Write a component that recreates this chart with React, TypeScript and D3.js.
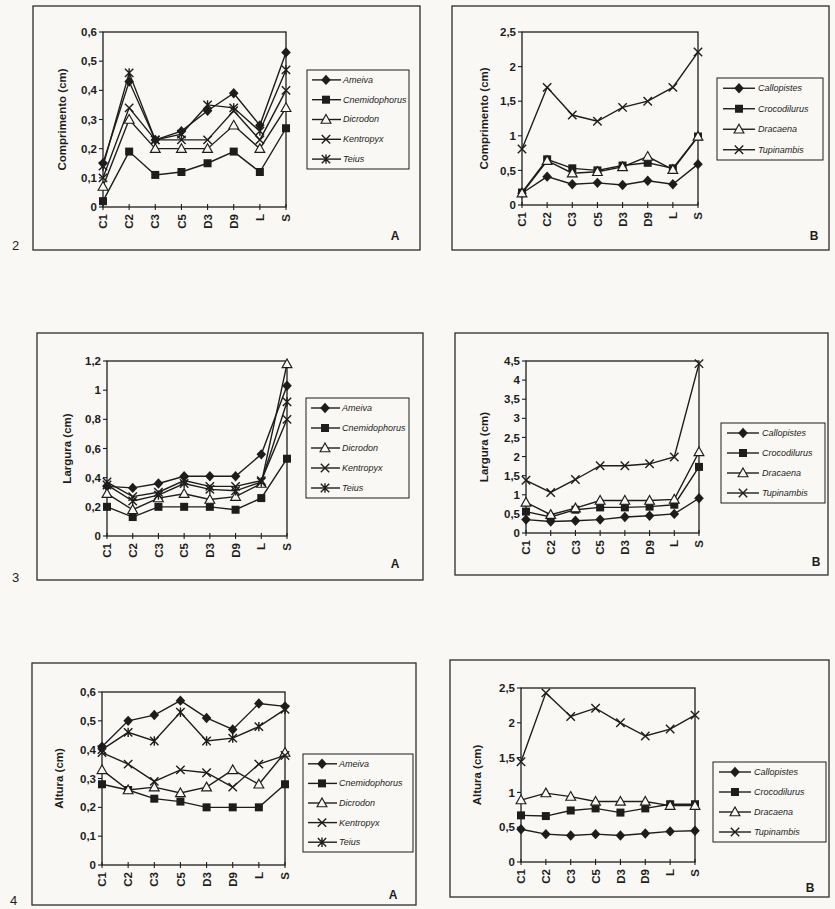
import React from 'react';
import * as d3 from 'd3';

const categories = ['C1', 'C2', 'C3', 'C5', 'D3', 'D9', 'L', 'S'];
const generaA = ['Ameiva', 'Cnemidophorus', 'Dicrodon', 'Kentropyx', 'Teius'];
const generaB = ['Callopistes', 'Crocodilurus', 'Dracaena', 'Tupinambis'];
const markersA = ['diamond', 'square', 'triangle', 'cross', 'star'];
const markersB = ['diamond', 'square', 'triangle', 'cross'];

// Comprimento (cm)
const comprimentoA = [
  [0.15, 0.43, 0.23, 0.26, 0.33, 0.39, 0.28, 0.53],
  [0.02, 0.19, 0.11, 0.12, 0.15, 0.19, 0.12, 0.27],
  [0.07, 0.30, 0.20, 0.20, 0.20, 0.28, 0.20, 0.34],
  [0.10, 0.34, 0.23, 0.23, 0.23, 0.33, 0.23, 0.40],
  [0.14, 0.46, 0.23, 0.25, 0.35, 0.34, 0.26, 0.47],
];
const comprimentoB = [
  [0.17, 0.41, 0.30, 0.32, 0.29, 0.35, 0.30, 0.59],
  [0.18, 0.66, 0.53, 0.50, 0.57, 0.61, 0.53, 0.99],
  [0.17, 0.64, 0.46, 0.48, 0.55, 0.70, 0.51, 0.99],
  [0.81, 1.70, 1.30, 1.21, 1.41, 1.50, 1.70, 2.21],
];
// Largura (cm)
const larguraA = [
  [0.34, 0.33, 0.36, 0.41, 0.41, 0.41, 0.56, 1.03],
  [0.20, 0.13, 0.20, 0.20, 0.20, 0.18, 0.26, 0.53],
  [0.29, 0.18, 0.26, 0.29, 0.25, 0.27, 0.36, 1.18],
  [0.37, 0.27, 0.30, 0.38, 0.34, 0.34, 0.38, 0.80],
  [0.35, 0.24, 0.28, 0.36, 0.32, 0.31, 0.37, 0.92],
];
const larguraB = [
  [0.35, 0.30, 0.32, 0.35, 0.42, 0.45, 0.50, 0.91],
  [0.56, 0.42, 0.61, 0.67, 0.67, 0.69, 0.74, 1.73],
  [0.80, 0.48, 0.65, 0.85, 0.85, 0.85, 0.88, 2.12],
  [1.38, 1.06, 1.40, 1.76, 1.76, 1.81, 1.99, 4.43],
];
// Altura (cm)
const alturaA = [
  [0.41, 0.50, 0.52, 0.57, 0.51, 0.47, 0.56, 0.55],
  [0.28, 0.26, 0.23, 0.22, 0.20, 0.20, 0.20, 0.28],
  [0.33, 0.26, 0.27, 0.25, 0.27, 0.33, 0.28, 0.39],
  [0.39, 0.35, 0.29, 0.33, 0.32, 0.27, 0.35, 0.38],
  [0.40, 0.46, 0.43, 0.53, 0.43, 0.44, 0.48, 0.54],
];
const alturaB = [
  [0.47, 0.40, 0.38, 0.40, 0.38, 0.41, 0.44, 0.45],
  [0.67, 0.66, 0.74, 0.77, 0.71, 0.77, 0.83, 0.83],
  [0.89, 0.99, 0.94, 0.87, 0.87, 0.87, 0.81, 0.81],
  [1.44, 2.43, 2.09, 2.21, 2.00, 1.81, 1.91, 2.11],
];

const ticks06 = [0, 0.1, 0.2, 0.3, 0.4, 0.5, 0.6];
const ticks12 = [0, 0.2, 0.4, 0.6, 0.8, 1, 1.2];
const ticks25 = [0, 0.5, 1, 1.5, 2, 2.5];
const ticks45 = [0, 0.5, 1, 1.5, 2, 2.5, 3, 3.5, 4, 4.5];

const INK = '#1d1d1d';
const PAPER = '#f9f8f4';
const FONT = '"Liberation Sans", Arial, sans-serif';

const fmt = (v: number) => String(v).replace('.', ',');

type Cfg = {
  box: [number, number, number, number];
  plot: [number, number, number, number]; // left, right, top, bottom
  legend: [number, number, number, number];
  titleX: number;
  yLabel: string;
  ticks: number[];
  series: number[][];
  names: string[];
  markers: string[];
  letter: string;
  letterPos: [number, number];
  num?: string;
  numPos?: [number, number];
  wide: boolean;
};

const panels: Cfg[] = [
  { box: [33, 6, 387, 244], plot: [103, 286, 32, 207], legend: [307, 70, 102, 99], titleX: 62,
    yLabel: 'Comprimento (cm)', ticks: ticks06, series: comprimentoA, names: generaA, markers: markersA,
    letter: 'A', letterPos: [395, 240], num: '2', numPos: [12, 250], wide: false },
  { box: [452, 6, 377, 244], plot: [522, 698, 32, 205], legend: [717, 78, 106, 82], titleX: 484,
    yLabel: 'Comprimento (cm)', ticks: ticks25, series: comprimentoB, names: generaB, markers: markersB,
    letter: 'B', letterPos: [814, 240], wide: true },
  { box: [37, 333, 386, 247], plot: [107, 287, 361, 536], legend: [306, 398, 103, 100], titleX: 67,
    yLabel: 'Largura (cm)', ticks: ticks12, series: larguraA, names: generaA, markers: markersA,
    letter: 'A', letterPos: [395, 568], num: '3', numPos: [12, 582], wide: false },
  { box: [455, 333, 373, 242], plot: [526, 699, 361, 533], legend: [721, 423, 104, 80], titleX: 484,
    yLabel: 'Largura (cm)', ticks: ticks45, series: larguraB, names: generaB, markers: markersB,
    letter: 'B', letterPos: [816, 566], wide: true },
  { box: [32, 663, 384, 242], plot: [102, 285, 692, 865], legend: [303, 754, 110, 98], titleX: 59,
    yLabel: 'Altura (cm)', ticks: ticks06, series: alturaA, names: generaA, markers: markersA,
    letter: 'A', letterPos: [393, 899], num: '4', numPos: [10, 905], wide: false },
  { box: [450, 660, 379, 237], plot: [521, 695, 688, 862], legend: [713, 762, 113, 80], titleX: 477,
    yLabel: 'Altura (cm)', ticks: ticks25, series: alturaB, names: generaB, markers: markersB,
    letter: 'B', letterPos: [810, 892], wide: true },
];

function Marker({ kind, x, y }: { kind: string; x: number; y: number }) {
  const s = 4.8;
  if (kind === 'diamond')
    return <polygon points={`${x},${y - s - 0.4} ${x + s},${y} ${x},${y + s + 0.4} ${x - s},${y}`} fill={INK} />;
  if (kind === 'square') return <rect x={x - 4} y={y - 4} width={8} height={8} fill={INK} />;
  if (kind === 'triangle')
    return (
      <polygon points={`${x},${y - 5} ${x + 4.9},${y + 3.7} ${x - 4.9},${y + 3.7}`}
        fill={PAPER} stroke={INK} strokeWidth={1.15} />
    );
  const c = 4.2;
  const paths = [`M${x - c},${y - c}L${x + c},${y + c}`, `M${x - c},${y + c}L${x + c},${y - c}`];
  if (kind === 'star') paths.push(`M${x},${y - c - 0.5}L${x},${y + c + 0.5}`);
  return <path d={paths.join('')} stroke={INK} strokeWidth={1.4} fill="none" />;
}

function Panel({ cfg }: { cfg: Cfg }) {
  const [l, r, t, b] = cfg.plot;
  const x = d3.scalePoint<string>().domain(categories).range([l, r]);
  const y = d3.scaleLinear().domain([0, cfg.ticks[cfg.ticks.length - 1]]).range([b, t]);
  const line = d3.line<number>().x((_, i) => x(categories[i])!).y(d => y(d));
  const [lx, ly, lw, lh] = cfg.legend;
  const n = cfg.names.length;
  const seg = cfg.wide ? [6, 38, 22, 41] : [5, 34, 19, 36];

  return (
    <g fontFamily={FONT} fill={INK}>
      <rect x={cfg.box[0]} y={cfg.box[1]} width={cfg.box[2]} height={cfg.box[3]}
        fill="none" stroke="#2b2b2b" strokeWidth={1.3} />
      {cfg.num && (
        <text x={cfg.numPos![0]} y={cfg.numPos![1]} fontSize={13}>{cfg.num}</text>
      )}
      <text x={cfg.letterPos[0]} y={cfg.letterPos[1]} fontSize={12} fontWeight="bold" textAnchor="middle">
        {cfg.letter}
      </text>

      {/* y axis */}
      {cfg.ticks.map(v => (
        <g key={v}>
          <line x1={l - 4} x2={l} y1={y(v)} y2={y(v)} stroke={INK} strokeWidth={1.1} />
          <text x={l - 6} y={y(v)} dy="0.36em" textAnchor="end" fontSize={11.5} fontWeight="bold">{fmt(v)}</text>
        </g>
      ))}
      <text transform={`translate(${cfg.titleX},${(t + b) / 2}) rotate(-90)`} textAnchor="middle"
        dy="0.35em" fontSize={11.5} fontWeight="bold">{cfg.yLabel}</text>

      {/* x axis */}
      {categories.map(c => (
        <g key={c}>
          <line x1={x(c)} x2={x(c)} y1={b - 3} y2={b + 3} stroke={INK} strokeWidth={1.1} />
          <text transform={`translate(${x(c)},${b + 7}) rotate(-90)`} textAnchor="end" dy="0.36em"
            fontSize={11.5} fontWeight="bold">{c}</text>
        </g>
      ))}

      <rect x={l} y={t} width={r - l} height={b - t} fill="none" stroke={INK} strokeWidth={1.3} />

      {cfg.series.map((vals, si) => (
        <g key={si}>
          <path d={line(vals)!} fill="none" stroke={INK} strokeWidth={1.4} />
          {vals.map((v, i) => (
            <Marker key={i} kind={cfg.markers[si]} x={x(categories[i])!} y={y(v)} />
          ))}
        </g>
      ))}

      {/* legend */}
      <rect x={lx} y={ly} width={lw} height={lh} fill={PAPER} stroke={INK} strokeWidth={1} />
      {cfg.names.map((name, i) => {
        const ry = ly + (lh * (i + 0.5)) / n;
        return (
          <g key={name}>
            <line x1={lx + seg[0]} x2={lx + seg[1]} y1={ry} y2={ry} stroke={INK} strokeWidth={1.4} />
            <Marker kind={cfg.markers[i]} x={lx + seg[2]} y={ry} />
            <text x={lx + seg[3]} y={ry} dy="0.33em" fontSize={9} fontStyle="italic">{name}</text>
          </g>
        );
      })}
    </g>
  );
}

export default function App() {
  return (
    <svg width={835} height={909} viewBox="0 0 835 909"
      style={{ position: 'absolute', left: 0, top: 0, display: 'block', background: PAPER }}>
      <rect width={835} height={909} fill={PAPER} />
      {panels.map((p, i) => <Panel key={i} cfg={p} />)}
    </svg>
  );
}
